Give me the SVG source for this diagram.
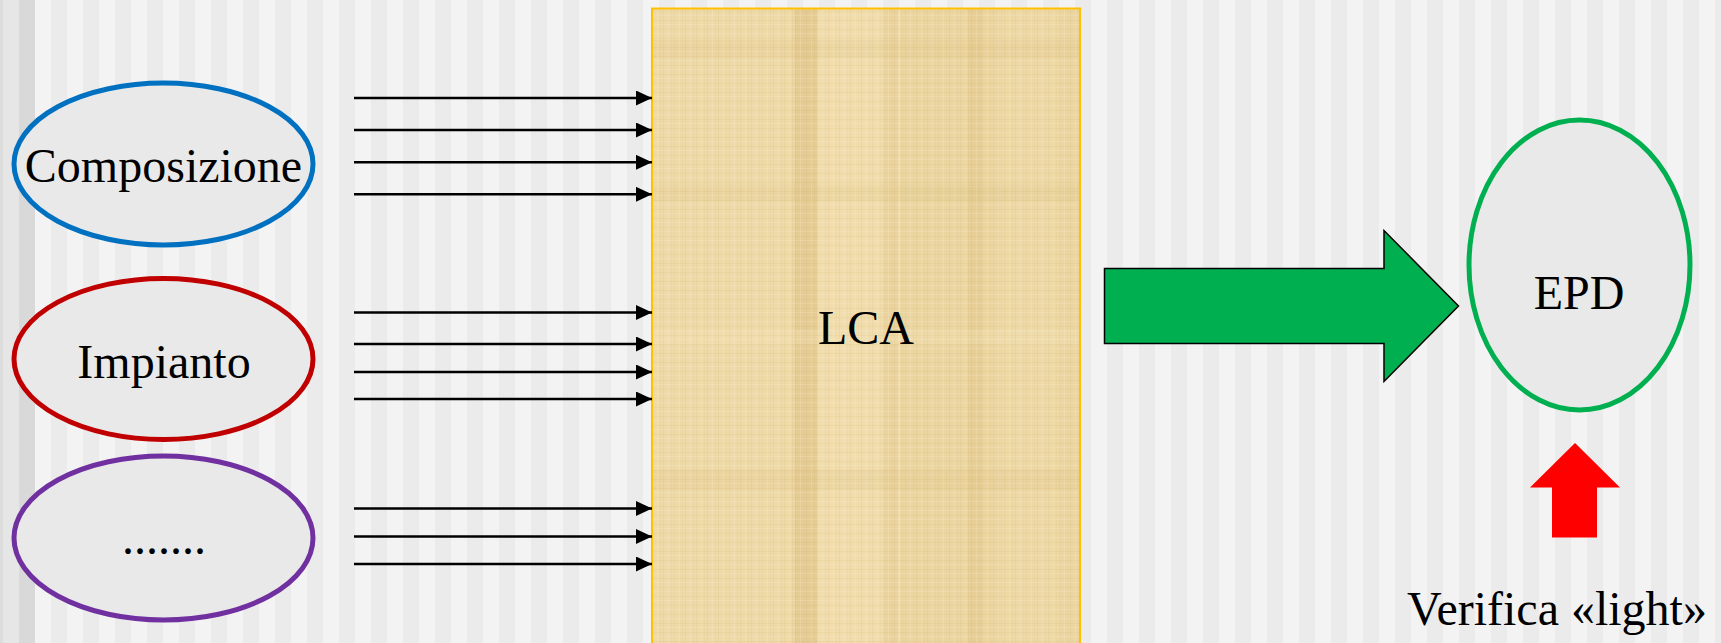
<svg xmlns="http://www.w3.org/2000/svg" width="1721" height="643" viewBox="0 0 1721 643">
<defs>
<style>
.lbl{font-family:"Liberation Serif","Times New Roman",serif;font-size:48px;fill:#000;text-anchor:middle}
.node{fill:#e9e9e9;stroke-width:5}
.in{stroke:#000;stroke-width:2.4;fill:none;marker-end:url(#ah)}
.dk{fill:#d4b56e}
.lt{fill:#f5e4b8}
</style>
<pattern id="stripes" patternUnits="userSpaceOnUse" x="35" y="0" width="32" height="10">
<rect x="0" y="0" width="16" height="10" fill="#f3f3f3"/>
<rect x="16" y="0" width="16" height="10" fill="#ebebeb"/>
</pattern>
<pattern id="weave" patternUnits="userSpaceOnUse" x="652" y="8" width="11" height="9">
<rect x="0" y="0" width="1" height="9" fill="#c9a95e" opacity="0.12"/>
<rect x="5" y="0" width="1" height="9" fill="#fff6dc" opacity="0.18"/>
<rect x="8" y="0" width="1" height="9" fill="#c9a95e" opacity="0.08"/>
<rect x="0" y="3" width="11" height="1" fill="#c9a95e" opacity="0.1"/>
<rect x="0" y="7" width="11" height="1" fill="#fff6dc" opacity="0.15"/>
</pattern>
<marker id="ah" markerUnits="userSpaceOnUse" markerWidth="16" markerHeight="16" refX="16" refY="7.5" orient="auto">
<path d="M0,0 L16,7.5 L0,15 z" fill="#000"/>
</marker>
</defs>
<g id="background">
<rect x="0" y="0" width="1721" height="643" fill="url(#stripes)"/>
<rect x="0" y="0" width="3" height="643" fill="#dcdcdc"/>
<rect x="3" y="0" width="16" height="643" fill="#e6e6e6"/>
<rect x="19" y="0" width="16" height="643" fill="#d9d9d9"/>
</g>
<g id="lca">
<rect x="652" y="8.5" width="428" height="640" fill="#ebd5a1"/>
<rect class="lt" x="652" y="8.5" width="140" height="640" opacity="0.3"/>
<rect class="dk" x="795" y="8.5" width="22" height="640" opacity="0.25"/>
<rect class="lt" x="817" y="8.5" width="83" height="640" opacity="0.5"/>
<rect class="dk" x="884" y="8.5" width="14" height="640" opacity="0.22"/>
<rect class="dk" x="968" y="8.5" width="14" height="640" opacity="0.2"/>
<rect class="lt" x="1000" y="8.5" width="60" height="640" opacity="0.25"/>
<rect class="dk" x="652" y="40" width="428" height="18" opacity="0.12"/>
<rect class="dk" x="652" y="185" width="428" height="16" opacity="0.14"/>
<rect class="lt" x="652" y="330" width="428" height="14" opacity="0.3"/>
<rect class="dk" x="652" y="470" width="428" height="20" opacity="0.12"/>
<rect x="652" y="8.5" width="428" height="640" fill="url(#weave)"/>
<rect x="652" y="8.5" width="428" height="640" fill="none" stroke="#ffc000" stroke-width="2"/>
<text class="lbl" x="866" y="344">LCA</text>
</g>
<g id="composizione">
<ellipse class="node" cx="163.5" cy="164" rx="149.5" ry="81" stroke="#0070c0"/>
<text class="lbl" x="163.5" y="182">Composizione</text>
</g>
<g id="impianto">
<ellipse class="node" cx="163.5" cy="359" rx="149.5" ry="80.5" stroke="#c00000"/>
<text class="lbl" x="164" y="378">Impianto</text>
</g>
<g id="altro">
<ellipse class="node" cx="163.5" cy="538" rx="149.5" ry="82" stroke="#7030a0"/>
<text class="lbl" x="164" y="554">.......</text>
</g>
<g id="epd">
<ellipse class="node" cx="1579.5" cy="265" rx="110.5" ry="145" stroke="#00b050"/>
<text class="lbl" x="1579" y="309">EPD</text>
</g>
<g id="verifica">
<polygon points="1575,443 1620,487.5 1597,487.5 1597,537.5 1552,537.5 1552,487.5 1530,487.5" fill="#ff0000"/>
<text class="lbl" x="1557" y="625">Verifica «light»</text>
</g>
<g id="connectors">
<line class="in" x1="354" y1="98" x2="652" y2="98"/>
<line class="in" x1="354" y1="130" x2="652" y2="130"/>
<line class="in" x1="354" y1="162.3" x2="652" y2="162.3"/>
<line class="in" x1="354" y1="194.3" x2="652" y2="194.3"/>
<line class="in" x1="354" y1="312.5" x2="652" y2="312.5"/>
<line class="in" x1="354" y1="344" x2="652" y2="344"/>
<line class="in" x1="354" y1="372" x2="652" y2="372"/>
<line class="in" x1="354" y1="399" x2="652" y2="399"/>
<line class="in" x1="354" y1="508.5" x2="652" y2="508.5"/>
<line class="in" x1="354" y1="536.5" x2="652" y2="536.5"/>
<line class="in" x1="354" y1="564" x2="652" y2="564"/>
<polygon id="lca-to-epd" points="1104.5,268.5 1384,268.5 1384,230.5 1458.5,306 1384,381.5 1384,343.5 1104.5,343.5" fill="#00b050" stroke="#000" stroke-width="1.5"/>
</g>
</svg>
